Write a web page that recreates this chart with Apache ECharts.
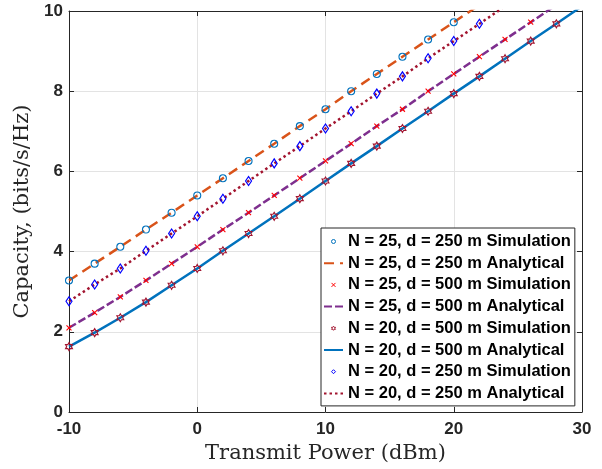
<!DOCTYPE html>
<html>
<head>
<meta charset="utf-8">
<script src="https://cdn.jsdelivr.net/npm/echarts@6/dist/echarts.min.js"></script>
<style>html,body{margin:0;padding:0;background:#fff}#c{width:602px;height:469px}</style>
</head>
<body>
<div id="c"></div>
<script>
// Transmit power (dBm) sample points, every 2 dBm
const xPts = [-10,-8,-6,-4,-2,0,2,4,6,8,10,12,14,16,18,20,22,24,26,28,30];
const xTicks = [-10,0,10,20,30];
const yTicks = [0,2,4,6,8,10];

const seriesNames = [
  'N = 25, d = 250 m Simulation',
  'N = 25, d = 250 m Analytical',
  'N = 25, d = 500 m Simulation',
  'N = 25, d = 500 m Analytical',
  'N = 20, d = 500 m Simulation',
  'N = 20, d = 500 m Analytical',
  'N = 20, d = 250 m Simulation',
  'N = 20, d = 250 m Analytical'
];

// Capacity (bits/s/Hz)
const simN25d250 = [3.28,3.70,4.12,4.55,4.97,5.40,5.83,6.26,6.69,7.13,7.55,8.00,8.43,8.86,9.29,9.72];
const anaN25d250 = [3.28,3.70,4.12,4.55,4.97,5.40,5.83,6.26,6.69,7.13,7.55,8.00,8.43,8.86,9.29,9.72,10.15,10.58];
const simN25d500 = [2.10,2.48,2.87,3.28,3.70,4.12,4.55,4.97,5.40,5.83,6.26,6.69,7.13,7.55,8.00,8.43,8.86,9.29,9.72];
const anaN25d500 = [2.10,2.48,2.87,3.28,3.70,4.12,4.55,4.97,5.40,5.83,6.26,6.69,7.13,7.55,8.00,8.43,8.86,9.29,9.72,10.15,10.58];
const simN20d500 = [1.63,1.98,2.35,2.74,3.16,3.58,4.02,4.45,4.88,5.32,5.76,6.20,6.63,7.07,7.50,7.94,8.37,8.81,9.25,9.68];
const anaN20d500 = [1.63,1.98,2.35,2.74,3.16,3.58,4.02,4.45,4.88,5.32,5.76,6.20,6.63,7.07,7.50,7.94,8.37,8.81,9.25,9.68,10.12];
const simN20d250 = [2.76,3.18,3.58,4.02,4.45,4.88,5.32,5.76,6.20,6.63,7.07,7.50,7.94,8.37,8.82,9.25,9.68];
const anaN20d250 = [2.76,3.18,3.58,4.02,4.45,4.88,5.32,5.76,6.20,6.63,7.07,7.50,7.94,8.37,8.82,9.25,9.68,10.12,10.56];

const pairs = ys => ys.map((y, i) => [xPts[i], y]);

const crossPath = 'path://M0,0L10,10M10,0L0,10';
const hexPath = 'path://M10,0L12.89,5L18.66,5L15.77,10L18.66,15L12.89,15L10,20L7.11,15L1.34,15L4.23,10L1.34,5L7.11,5Z';

function sim(name, ys, symbol, size, color, bw) {
  return {
    name, type: 'line', data: pairs(ys), symbol, symbolSize: size, symbolKeepAspect: true,
    showSymbol: true, showAllSymbol: true,
    lineStyle: { opacity: 0, width: 0 },
    itemStyle: { color: 'rgba(0,0,0,0)', borderColor: color, borderWidth: bw },
    emphasis: { disabled: true }, silent: true
  };
}
function ana(name, ys, color, dash) {
  return {
    name, type: 'line', data: pairs(ys), symbol: 'none', clip: true,
    lineStyle: { color, width: 2.5, type: dash },
    itemStyle: { color },
    emphasis: { disabled: true }, silent: true
  };
}

const axisCol = '#262626';
const tickFont = { fontFamily: 'Liberation Sans', fontWeight: 'bold', fontSize: 17, color: '#262626' };
const nameFont = { fontFamily: 'DejaVu Serif', fontSize: 21, color: '#262626' };

const legendData = seriesNames.map((n, i) => (i % 2 === 1)
  ? { name: n, itemStyle: { opacity: 0, borderWidth: 0 } }
  : { name: n, itemStyle: { borderWidth: 1 } });

const chart = echarts.init(document.getElementById('c'), null, { renderer: 'canvas' });
chart.setOption({
  animation: false,
  backgroundColor: '#fff',
  grid: { left: 69, right: 20, top: 11, bottom: 57, containLabel: false },
  legend: {
    data: legendData,
    orient: 'vertical', left: 321, top: 228,
    padding: [5, 4, 4, 2],
    itemWidth: 19, itemHeight: 5, itemGap: 4.7,
    backgroundColor: '#fff', borderColor: axisCol, borderWidth: 1, borderRadius: 0,
    textStyle: { fontFamily: 'Liberation Sans', fontWeight: 'bold', fontSize: 16.5, color: '#000', lineHeight: 16 },
    selectedMode: false
  },
  xAxis: [{
    type: 'value', min: xTicks[0], max: xTicks[xTicks.length - 1], interval: 10,
    name: 'Transmit Power (dBm)', nameLocation: 'middle', nameGap: 31, nameTextStyle: nameFont,
    axisLine: { show: true, onZero: false, lineStyle: { color: axisCol, width: 1 } },
    axisTick: { show: true, inside: true, length: 5, lineStyle: { color: axisCol } },
    axisLabel: Object.assign({ margin: 9 }, tickFont),
    splitLine: { show: true, lineStyle: { color: '#e3e3e3', width: 1 } }
  }, {
    type: 'value', position: 'top', min: xTicks[0], max: xTicks[xTicks.length - 1], interval: 10,
    axisLine: { show: true, onZero: false, lineStyle: { color: axisCol, width: 1 } },
    axisTick: { show: true, inside: true, length: 5, lineStyle: { color: axisCol } },
    axisLabel: { show: false }, splitLine: { show: false }
  }],
  yAxis: [{
    type: 'value', min: yTicks[0], max: yTicks[yTicks.length - 1], interval: 2,
    name: 'Capacity, (bits/s/Hz)', nameLocation: 'middle', nameGap: 30, nameTextStyle: nameFont,
    axisLine: { show: true, onZero: false, lineStyle: { color: axisCol, width: 1 } },
    axisTick: { show: true, inside: true, length: 5, lineStyle: { color: axisCol } },
    axisLabel: Object.assign({ margin: 6 }, tickFont),
    splitLine: { show: true, lineStyle: { color: '#e3e3e3', width: 1 } }
  }, {
    type: 'value', position: 'right', min: yTicks[0], max: yTicks[yTicks.length - 1], interval: 2,
    axisLine: { show: true, onZero: false, lineStyle: { color: axisCol, width: 1 } },
    axisTick: { show: true, inside: true, length: 5, lineStyle: { color: axisCol } },
    axisLabel: { show: false }, splitLine: { show: false }
  }],
  series: [
    sim(seriesNames[0], simN25d250, 'circle', 7, '#0072BD', 1.1),
    ana(seriesNames[1], anaN25d250, '#D95319', [10, 6]),
    sim(seriesNames[2], simN25d500, crossPath, 5, '#FF0000', 1.1),
    ana(seriesNames[3], anaN25d500, '#7E2F8E', [8, 3]),
    sim(seriesNames[4], simN20d500, hexPath, 8, '#A2142F', 1.1),
    ana(seriesNames[5], anaN20d500, '#0072BD', 'solid'),
    sim(seriesNames[6], simN20d250, 'diamond', [6, 9], '#0000FF', 1.2),
    ana(seriesNames[7], anaN20d250, '#A2142F', [2.5, 3])
  ]
});
</script>
</body>
</html>
